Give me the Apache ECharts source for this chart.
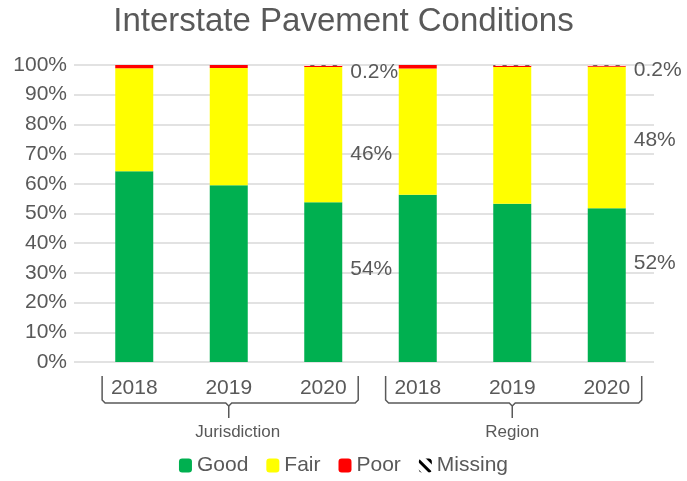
<!DOCTYPE html>
<html>
<head>
    <meta charset="utf-8">
    <title>Interstate Pavement Conditions</title>
    <script src="https://cdn.jsdelivr.net/npm/echarts@6/dist/echarts.min.js"></script>
</head>
<body style="margin:0">
<div id="main" style="width: 687px;height:481px;"></div>
<script type="text/javascript">
    // data (percent)
    var years = ['2018', '2019', '2020', '2018', '2019', '2020'];
    var groups = ['Jurisdiction', 'Region'];
    var good = [64.2, 59.5, 53.8, 56.3, 53.3, 51.8];
    var fair = [34.7, 39.5, 45.5, 42.5, 46.0, 47.6];
    var poor = [1.1, 1.0, 0.5, 1.2, 0.5, 0.4];
    var missing = [0, 0, 0.2, 0, 0.2, 0.2];
    var yTicks = [0, 10, 20, 30, 40, 50, 60, 70, 80, 90, 100];

    // which bars carry a value label, and how far each label is nudged
    var labelled = {2: {good: -13, fair: 20, missing: 7}, 5: {good: -22, fair: 3, missing: 5}};

    var grey = '#595959';
    var font = 'Liberation Sans';

    function fmt(v) {
        return v < 1 ? v.toFixed(1) + '%' : Math.round(v) + '%';
    }

    function makeData(values, key) {
        return values.map(function (v, i) {
            var item = {value: v};
            if (labelled[i] && labelled[i][key] !== undefined) {
                item.label = {
                    show: true,
                    position: 'right',
                    distance: 8,
                    offset: [0, labelled[i][key]],
                    formatter: function (p) { return fmt(p.value); },
                    color: grey,
                    fontSize: 21,
                    fontFamily: font
                };
            }
            return item;
        });
    }

    var myChart = echarts.init(document.getElementById('main'));

    var option = {
        animation: false,
        title: {
            text: 'Interstate Pavement Conditions',
            left: 'center',
            top: 0,
            textStyle: {color: grey, fontSize: 33, fontWeight: 'normal', fontFamily: font}
        },
        legend: {
            bottom: 0,
            left: 'center',
            itemWidth: 13,
            itemHeight: 14,
            itemGap: 18,
            textStyle: {color: grey, fontSize: 21, fontFamily: font},
            data: ['Good', 'Fair', 'Poor', 'Missing']
        },
        grid: {left: 87, right: 33, top: 65, bottom: 119},
        xAxis: {
            type: 'category',
            data: years,
            axisLine: {show: false},
            axisTick: {show: false},
            axisLabel: {color: grey, fontSize: 21, fontFamily: font, margin: 16}
        },
        yAxis: {
            type: 'value',
            min: 0,
            max: 100,
            interval: 10,
            axisLine: {show: false},
            axisTick: {show: true, length: 13, lineStyle: {color: '#d9d9d9', width: 1.5}},
            splitLine: {lineStyle: {color: '#d9d9d9', width: 1.5}},
            axisLabel: {
                color: grey, fontSize: 21, fontFamily: font, margin: 20,
                formatter: function (v) { return yTicks.indexOf(v) >= 0 ? v + '%' : ''; }
            }
        },
        series: [{
            name: 'Good', type: 'bar', stack: 'all', barWidth: 38,
            itemStyle: {color: '#00B050'},
            data: makeData(good, 'good')
        }, {
            name: 'Fair', type: 'bar', stack: 'all',
            itemStyle: {color: '#FFFF00'},
            data: makeData(fair, 'fair')
        }, {
            name: 'Poor', type: 'bar', stack: 'all',
            itemStyle: {color: '#FF0000'},
            data: makeData(poor, 'poor')
        }, {
            name: 'Missing', type: 'bar', stack: 'all',
            itemStyle: {
                color: '#ffffff',
                decal: {
                    symbol: 'rect',
                    color: '#000',
                    backgroundColor: '#fff',
                    dashArrayX: [1, 0],
                    dashArrayY: [3, 5],
                    rotation: Math.PI / 4
                }
            },
            data: makeData(missing, 'missing')
        }]
    };

    myChart.setOption(option);

    // group brackets under the year labels
    var half = myChart.convertToPixel({xAxisIndex: 0}, 1) - myChart.convertToPixel({xAxisIndex: 0}, 0);
    var graphics = [];
    groups.forEach(function (name, g) {
        var c0 = myChart.convertToPixel({xAxisIndex: 0}, g * 3);
        var c1 = myChart.convertToPixel({xAxisIndex: 0}, g * 3 + 1);
        var c2 = myChart.convertToPixel({xAxisIndex: 0}, g * 3 + 2);
        var x1 = c0 - half * 0.34, x2 = c2 + half * 0.37;
        var top = 376, mid = 403, bot = 418, r = 3;
        var lineStyle = {fill: null, stroke: grey, lineWidth: 1.5};
        graphics.push({
            type: 'polyline',
            shape: {points: [[x1, top], [x1, mid - r], [x1 + r, mid], [c1 - r, mid], [c1, mid + r], [c1, bot]]},
            style: lineStyle
        });
        graphics.push({
            type: 'polyline',
            shape: {points: [[x2, top], [x2, mid - r], [x2 - r, mid], [c1 + r, mid], [c1, mid + r]]},
            style: lineStyle
        });
        graphics.push({
            type: 'text',
            x: c1 + (g === 0 ? 9 : 0),
            y: 432,
            style: {
                text: name, fill: grey, fontSize: 17, fontFamily: font,
                align: 'center', verticalAlign: 'middle'
            }
        });
    });
    myChart.setOption({graphic: graphics});
</script>
</body>
</html>
